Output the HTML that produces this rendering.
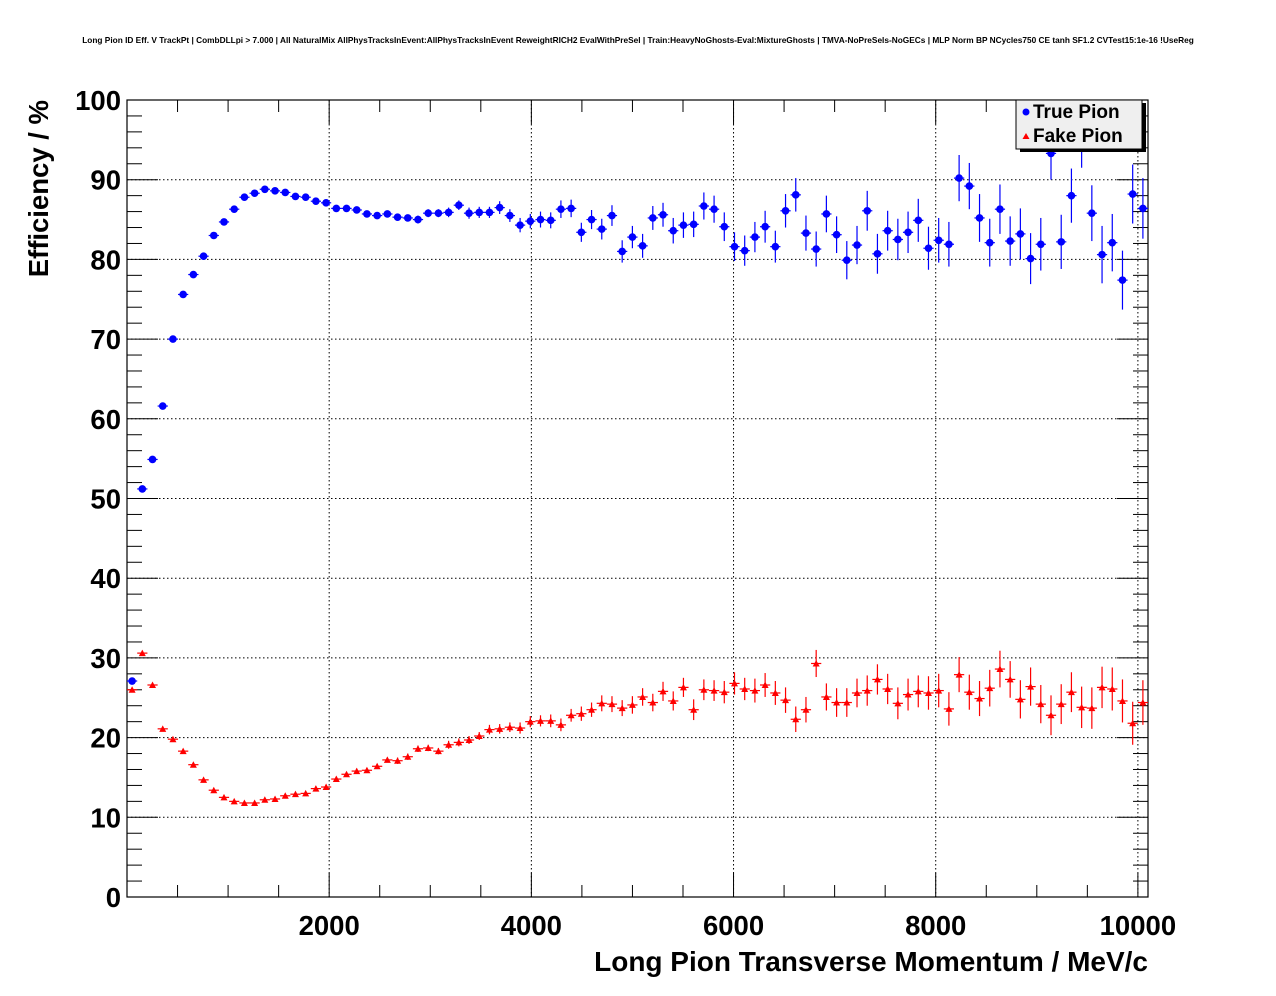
<!DOCTYPE html>
<html><head><meta charset="utf-8"><style>
body{margin:0;background:#fff;}
svg{display:block;font-family:"Liberation Sans",sans-serif;}
</style></head><body>
<svg id="chart" width="1276" height="996"></svg>
<script>
const blueVals=[27.1,51.2,54.9,61.6,70.0,75.6,78.1,80.4,83.0,84.7,86.3,87.8,88.3,88.8,88.6,88.4,87.9,87.8,87.3,87.1,86.4,86.4,86.2,85.7,85.5,85.7,85.3,85.2,85.0,85.8,85.8,85.9,86.8,85.8,85.9,85.9,86.5,85.5,84.3,84.8,85.0,84.9,86.3,86.4,83.4,85.0,83.8,85.5,81.0,82.8,
81.7,85.2,85.6,83.6,84.3,84.4,86.7,86.3,84.1,81.6,81.1,82.8,84.1,81.6,86.1,88.1,83.3,81.3,85.7,83.1,79.9,81.8,86.1,80.7,83.6,82.5,83.4,84.9,81.4,82.4,81.9,90.2,89.2,85.2,82.1,86.3,82.3,83.2,80.1,81.9,93.3,82.2,88.0,95.0,85.8,80.6,82.1,77.4,88.2,86.4];
const blueErr=[0.3,0.3,0.3,0.3,0.3,0.3,0.3,0.3,0.3,0.3,0.3,0.3,0.3,0.3,0.3,0.3,0.3,0.3,0.3,0.4,0.4,0.4,0.4,0.4,0.4,0.4,0.4,0.4,0.5,0.5,0.5,0.6,0.6,0.7,0.7,0.7,0.8,0.8,0.9,0.9,1.0,1.0,1.1,1.1,1.2,1.2,1.3,1.3,1.4,1.4,
1.5,1.5,1.5,1.6,1.6,1.6,1.7,1.7,1.8,1.8,1.9,1.9,2.0,2.0,2.1,2.1,2.2,2.2,2.3,2.3,2.4,2.4,2.5,2.5,2.5,2.6,2.6,2.7,2.7,2.8,2.8,2.9,2.9,3.0,3.0,3.1,3.1,3.2,3.2,3.3,3.3,3.4,3.4,3.5,3.5,3.6,3.6,3.7,3.7,3.8];
const redVals=[26.0,30.6,26.6,21.1,19.8,18.3,16.6,14.7,13.4,12.5,12.0,11.8,11.8,12.2,12.3,12.7,12.9,13.0,13.6,13.8,14.8,15.4,15.8,15.9,16.4,17.2,17.1,17.6,18.6,18.7,18.3,19.1,19.4,19.7,20.2,21.0,21.1,21.3,21.2,22.0,22.1,22.1,21.6,22.8,23.0,23.5,24.3,24.2,23.7,24.1,
25.1,24.4,25.8,24.6,26.3,23.5,26.0,25.9,25.7,26.8,26.1,25.9,26.6,25.6,24.7,22.3,23.5,29.3,25.1,24.4,24.4,25.6,25.9,27.3,26.1,24.3,25.4,25.8,25.6,25.9,23.6,27.9,25.7,24.9,26.2,28.6,27.3,24.8,26.4,24.2,22.8,24.2,25.7,23.8,23.7,26.3,26.1,24.6,21.8,24.4];
const redErr=[0.2,0.2,0.2,0.2,0.2,0.2,0.2,0.2,0.2,0.2,0.2,0.2,0.2,0.2,0.2,0.2,0.2,0.2,0.3,0.3,0.3,0.3,0.3,0.3,0.3,0.3,0.4,0.4,0.4,0.4,0.4,0.5,0.5,0.5,0.5,0.6,0.6,0.6,0.7,0.7,0.7,0.8,0.8,0.8,0.9,0.9,1.0,1.0,1.0,1.1,
1.1,1.1,1.2,1.2,1.2,1.3,1.3,1.3,1.4,1.4,1.4,1.5,1.5,1.5,1.6,1.6,1.6,1.7,1.7,1.8,1.8,1.8,1.9,1.9,1.9,2.0,2.0,2.0,2.1,2.1,2.1,2.2,2.2,2.2,2.3,2.3,2.3,2.4,2.4,2.4,2.5,2.5,2.5,2.6,2.6,2.6,2.7,2.7,2.7,2.8];
const xTickLabels=[2000,4000,6000,8000,10000];
const yTickLabels=[0,10,20,30,40,50,60,70,80,90,100];
const binWidth=101, xMin=0, xMax=10100, yMin=0, yMax=100;

const NS="http://www.w3.org/2000/svg";
const svg=document.getElementById('chart');
const L=127,R=1148,T=100,B=897;
const sx=v=>L+(v-xMin)/(xMax-xMin)*(R-L);
const sy=v=>B-(v-yMin)/(yMax-yMin)*(B-T);
function mk(tag,attrs,parent){const e=document.createElementNS(NS,tag);for(const k in attrs)e.setAttribute(k,attrs[k]);(parent||svg).appendChild(e);return e;}

const t=mk('text',{x:638,y:43,'text-anchor':'middle','font-size':'8.3','font-weight':'bold'});


t.textContent='Long Pion ID Eff. V TrackPt | CombDLLpi > 7.000 | All NaturalMix AllPhysTracksInEvent:AllPhysTracksInEvent ReweightRICH2 EvalWithPreSel | Train:HeavyNoGhosts-Eval:MixtureGhosts | TMVA-NoPreSels-NoGECs | MLP Norm BP NCycles750 CE tanh SF1.2 CVTest15:1e-16 !UseReg';

const grid=mk('g',{stroke:'#000','stroke-width':1,'stroke-dasharray':'1.5,2.5'});


xTickLabels.forEach(v=>{if(v<xMax)mk('line',{x1:sx(v),x2:sx(v),y1:T,y2:B},grid);});
yTickLabels.forEach(v=>{if(v>yMin&&v<yMax)mk('line',{x1:L,x2:R,y1:sy(v),y2:sy(v)},grid);});

const ticks=mk('g',{stroke:'#000','stroke-width':1});


for(let v=yMin;v<=yMax;v+=2){const len=(v%10===0)?31:15;mk('line',{x1:L,x2:L+len,y1:sy(v),y2:sy(v)},ticks);mk('line',{x1:R,x2:R-len,y1:sy(v),y2:sy(v)},ticks);}
for(let v=500;v<xMax;v+=500){const len=(v%2000===0)?24:12;mk('line',{x1:sx(v),x2:sx(v),y1:B,y2:B-len},ticks);mk('line',{x1:sx(v),x2:sx(v),y1:T,y2:T+len},ticks);}

const frame=mk('rect',{x:L,y:T,width:R-L,height:B-T,fill:'none',stroke:'#000','stroke-width':1.2});



xTickLabels.forEach(v=>{const e=mk('text',{x:sx(v),y:935,'text-anchor':'middle','font-size':'27.5','font-weight':'bold'});


e.textContent=v;});
yTickLabels.forEach(v=>{const e=mk('text',{x:121,y:sy(v)+10,'text-anchor':'end','font-size':'27.5','font-weight':'bold'});


e.textContent=v;});

const xt=mk('text',{x:R,y:971,'text-anchor':'end','font-size':'28','font-weight':'bold'});


xt.textContent='Long Pion Transverse Momentum / MeV/c';
const yt=mk('text',{x:48,y:100,'text-anchor':'end','font-size':'27.5','font-weight':'bold'});


yt.setAttribute('transform','rotate(-90 48 100)');
yt.textContent='Efficiency / %';

function series(vals,errs,color,shape,name){
  const g=mk('g',{});
  
  
  vals.forEach((v,i)=>{
    const c=xMin+binWidth*(i+0.5), x=sx(c), y=sy(v);
    const lo=sx(c-binWidth/2), hi=sx(c+binWidth/2);
    const p=mk('g',{},g);
    
    
    mk('line',{x1:lo,x2:hi,y1:y,y2:y,stroke:color,'stroke-width':1.2},p);
    mk('line',{x1:x,x2:x,y1:sy(v-errs[i]),y2:sy(v+errs[i]),stroke:color,'stroke-width':1.2},p);
    if(shape==='circle')mk('circle',{cx:x,cy:y,r:3.8,fill:color},p);
    else mk('polygon',{points:`${x-3.5},${y+3} ${x+3.5},${y+3} ${x},${y-3.5}`,fill:color},p);
  });
}
series(blueVals,blueErr,'#0000ff','circle','true-pion-series');
series(redVals,redErr,'#ff0000','triangle','fake-pion-series');

const lg=mk('g',{});


mk('rect',{x:1020,y:103,width:126,height:49,fill:'#000'},lg);
mk('rect',{x:1016,y:100,width:126,height:49,fill:'#efefef',stroke:'#000','stroke-width':1},lg);
const e1=mk('g',{},lg);


mk('circle',{cx:1026,cy:112,r:3.5,fill:'#0000ff'},e1);
const t1=mk('text',{x:1033,y:118,'font-size':'19','font-weight':'bold'},e1);t1.textContent='True Pion';
const e2=mk('g',{},lg);


mk('polygon',{points:'1022.5,139 1029.5,139 1026,133',fill:'#ff0000'},e2);
const t2=mk('text',{x:1033,y:142,'font-size':'19','font-weight':'bold'},e2);t2.textContent='Fake Pion';
</script>
</body></html>
